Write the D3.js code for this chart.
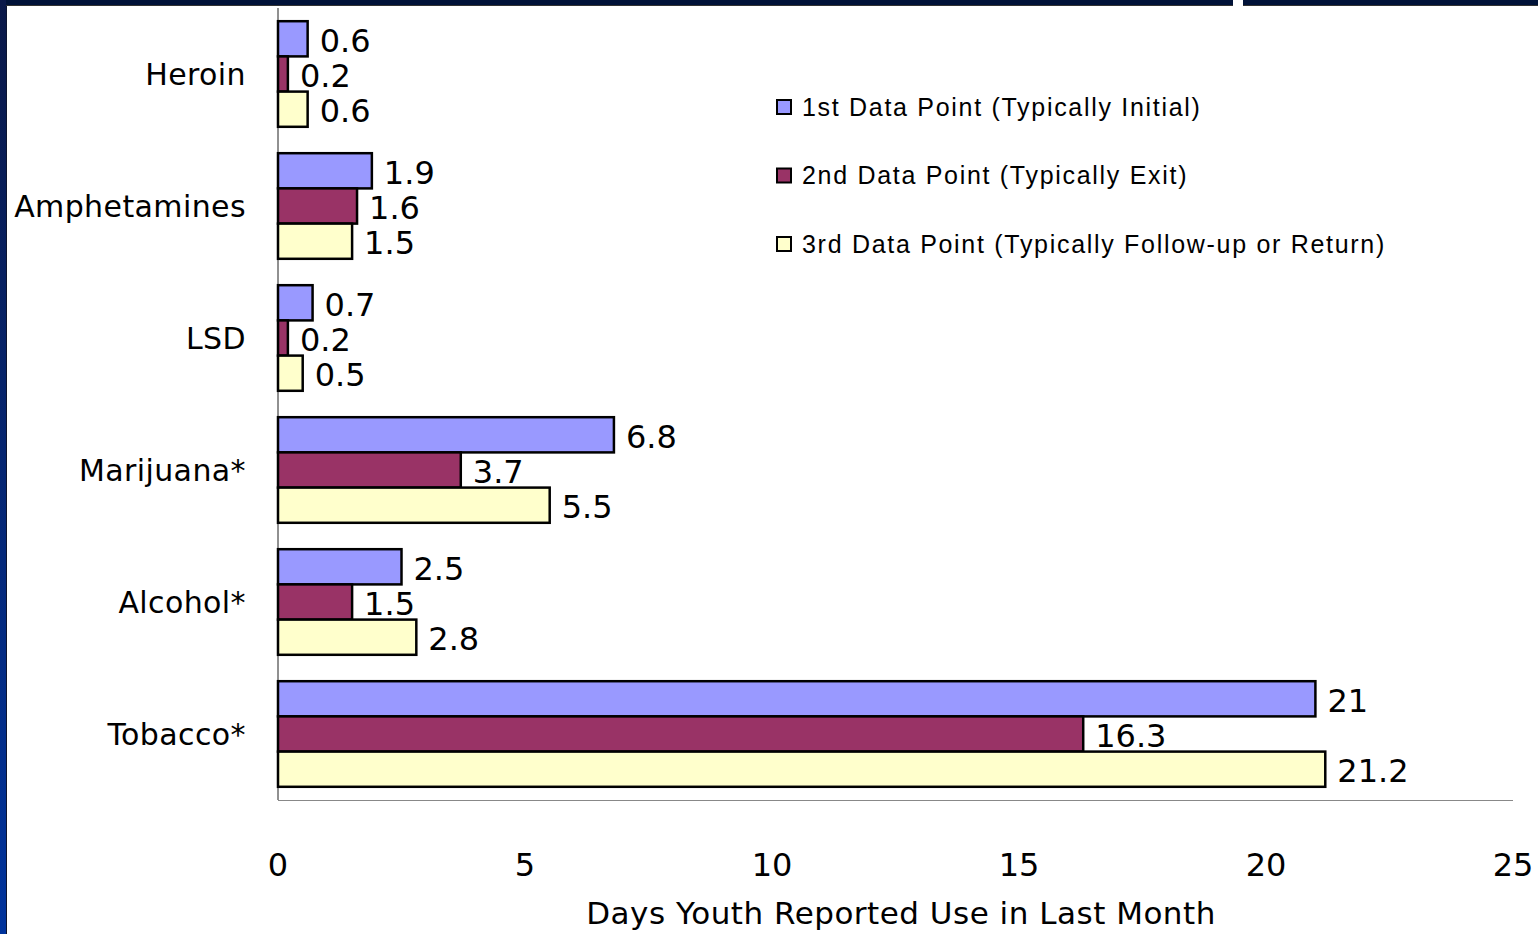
<!DOCTYPE html>
<html>
<head>
<meta charset="utf-8">
<script src="https://cdn.jsdelivr.net/npm/d3@7"></script>
<style>
  body { margin: 0; background: #fff; }
  svg { display: block; }
</style>
</head>
<body>
<svg id="chart"></svg>
<script>
const width = 1538, height = 934;

// data
const categories = ["Heroin", "Amphetamines", "LSD", "Marijuana*", "Alcohol*", "Tobacco*"];
const seriesNames = [
  "1st Data Point (Typically Initial)",
  "2nd Data Point (Typically Exit)",
  "3rd Data Point (Typically Follow-up or Return)"
];
const firstPoint  = [0.6, 1.9, 0.7, 6.8, 2.5, 21];
const secondPoint = [0.2, 1.6, 0.2, 3.7, 1.5, 16.3];
const thirdPoint  = [0.6, 1.5, 0.5, 5.5, 2.8, 21.2];
const xTicks = [0, 5, 10, 15, 20, 25];
const xTitle = "Days Youth Reported Use in Last Month";

const seriesValues = [firstPoint, secondPoint, thirdPoint];
const colors = ["#9999ff", "#993366", "#ffffcc"];
const chartFont = "'DejaVu Sans', sans-serif";

const svg = d3.select("#chart")
  .attr("width", width)
  .attr("height", height);

// slide frame: navy strip at top, blue strip at left
const grad = svg.append("defs").append("linearGradient")
  .attr("id", "leftGrad")
  .attr("x1", 0).attr("y1", 0).attr("x2", 0).attr("y2", 1);
grad.append("stop").attr("offset", "0%").attr("stop-color", "#0a1848");
grad.append("stop").attr("offset", "100%").attr("stop-color", "#00339c");

svg.append("rect").attr("x", 0).attr("y", 0).attr("width", 1233).attr("height", 5).attr("fill", "#001238");
svg.append("rect").attr("x", 1243).attr("y", 0).attr("width", width - 1243).attr("height", 5).attr("fill", "#001238");
svg.append("rect").attr("x", 0).attr("y", 0).attr("width", 6).attr("height", height).attr("fill", "url(#leftGrad)");
svg.append("rect").attr("x", 6).attr("y", 5).attr("width", 1).attr("height", height).attr("fill", "#0c1430");
svg.append("rect").attr("x", 6).attr("y", 5).attr("width", 1227).attr("height", 1).attr("fill", "#333");
svg.append("rect").attr("x", 1243).attr("y", 5).attr("width", width - 1243).attr("height", 1).attr("fill", "#333");

// scales
const x = d3.scaleLinear()
  .domain([0, 25])
  .range([278, 1513]);

const y = d3.scaleBand()
  .domain(categories)
  .range([8, 800])
  .paddingInner(0.2)
  .paddingOuter(0.1);

const y1 = d3.scaleBand()
  .domain(d3.range(seriesNames.length))
  .range([0, y.bandwidth()]);

// axes lines
svg.append("line")
  .attr("x1", x(0)).attr("x2", x(0))
  .attr("y1", 8).attr("y2", 800)
  .attr("stroke", "#222").attr("stroke-width", 1);

svg.append("line")
  .attr("x1", x(0)).attr("x2", x(25))
  .attr("y1", 800.5).attr("y2", 800.5)
  .attr("stroke", "#888").attr("stroke-width", 1.2);

// bars
const groups = svg.selectAll("g.cat")
  .data(categories)
  .enter().append("g")
  .attr("class", "cat")
  .attr("transform", d => `translate(0,${y(d)})`);

groups.selectAll("rect")
  .data((d, i) => seriesValues.map((vals, s) => ({ s: s, v: vals[i] })))
  .enter().append("rect")
  .attr("x", x(0))
  .attr("y", d => y1(d.s))
  .attr("width", d => x(d.v) - x(0))
  .attr("height", y1.bandwidth())
  .attr("fill", d => colors[d.s])
  .attr("stroke", "#000")
  .attr("stroke-width", 2.5);

// value labels
groups.selectAll("text.val")
  .data((d, i) => seriesValues.map((vals, s) => ({ s: s, v: vals[i] })))
  .enter().append("text")
  .attr("class", "val")
  .attr("x", d => x(d.v) + 12)
  .attr("y", d => y1(d.s) + y1.bandwidth() / 2 + 2)
  .attr("dy", "0.35em")
  .attr("font-family", chartFont)
  .attr("font-size", 32)
  .attr("fill", "#000")
  .text(d => d.v);

// category labels
svg.selectAll("text.cat")
  .data(categories)
  .enter().append("text")
  .attr("class", "cat")
  .attr("x", 246)
  .attr("y", d => y(d) + y.bandwidth() / 2)
  .attr("dy", "0.35em")
  .attr("text-anchor", "end")
  .attr("font-family", chartFont)
  .attr("font-size", 30)
  .attr("letter-spacing", 0.4)
  .text(d => d);

// x tick labels
svg.selectAll("text.tick")
  .data(xTicks)
  .enter().append("text")
  .attr("class", "tick")
  .attr("x", d => x(d))
  .attr("y", 865)
  .attr("dy", "0.35em")
  .attr("text-anchor", "middle")
  .attr("font-family", chartFont)
  .attr("font-size", 32)
  .text(d => d);

svg.append("text")
  .attr("x", 901)
  .attr("y", 913)
  .attr("dy", "0.35em")
  .attr("text-anchor", "middle")
  .attr("font-family", chartFont)
  .attr("font-size", 31)
  .attr("letter-spacing", 0.5)
  .text(xTitle);

// legend
const legend = svg.selectAll("g.legend")
  .data(seriesNames)
  .enter().append("g")
  .attr("class", "legend")
  .attr("transform", (d, i) => `translate(777,${107 + i * 68.5})`);

legend.append("rect")
  .attr("x", 0).attr("y", -7)
  .attr("width", 14).attr("height", 14)
  .attr("fill", (d, i) => colors[i])
  .attr("stroke", "#000")
  .attr("stroke-width", 2);

legend.append("text")
  .attr("x", 25)
  .attr("y", 0)
  .attr("dy", "0.35em")
  .attr("font-family", "'Liberation Sans', Arial, sans-serif")
  .attr("font-size", 25)
  .attr("letter-spacing", 1.7)
  .text(d => d);
</script>
</body>
</html>
